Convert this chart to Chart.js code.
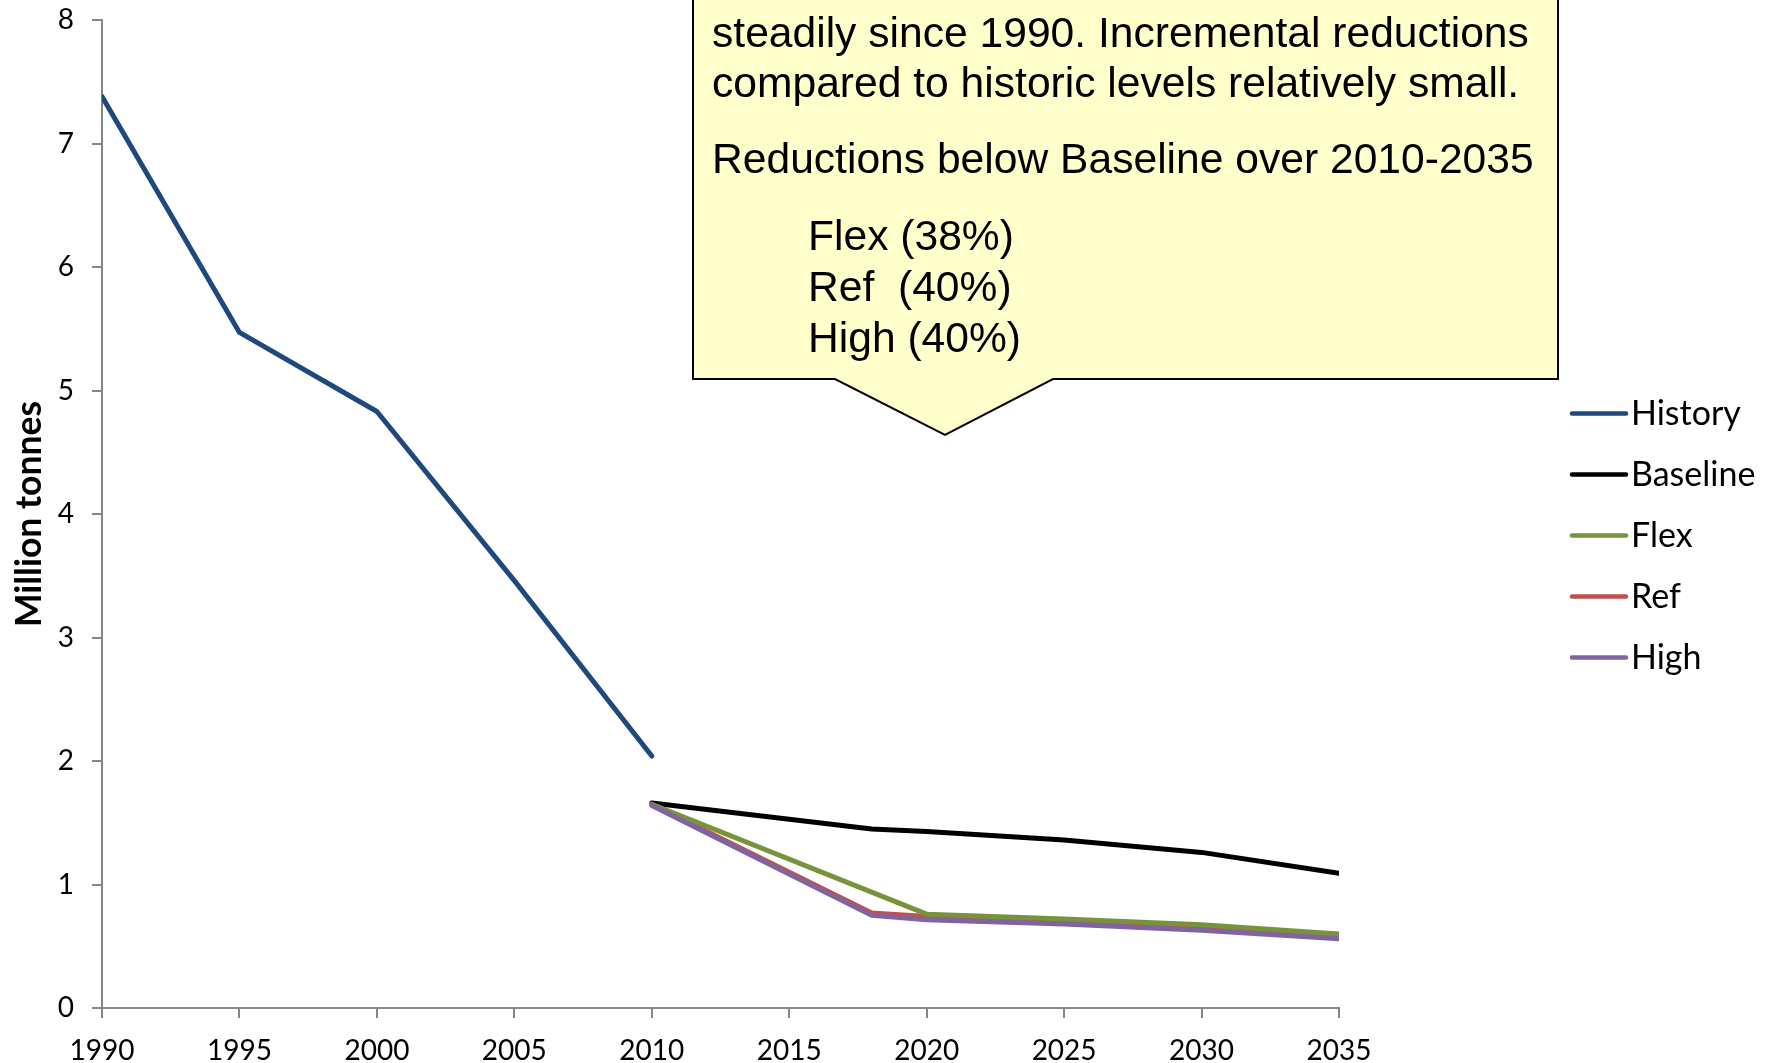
<!DOCTYPE html>
<html>
<head>
<meta charset="utf-8">
<script src="https://cdn.jsdelivr.net/npm/chart.js@4.4.1/dist/chart.umd.min.js"></script>
<style>
  html, body { margin: 0; padding: 0; background: #ffffff; }
  #wrap { width: 1775px; height: 1063px; position: relative; }
</style>
</head>
<body>
<div id="wrap"><canvas id="chart" width="1775" height="1063"></canvas></div>
<script>
// Emissions, million tonnes
const historyYears   = [1990, 1995, 2000, 2005, 2010];
const historyValues  = [7.38, 5.47, 4.83, 3.46, 2.04];

const scenarioYears  = [2010, 2018, 2020, 2025, 2030, 2035];
const baselineValues = [1.66, 1.45, 1.43, 1.36, 1.26, 1.09];
const refValues      = [1.65, 0.77, 0.74, 0.70, 0.65, 0.58];
const highValues     = [1.64, 0.75, 0.715, 0.68, 0.63, 0.56];

const flexYears      = [2010, 2020, 2025, 2030, 2035];
const flexValues     = [1.65, 0.76, 0.72, 0.675, 0.60];

const seriesLabels   = ['History', 'Baseline', 'Flex', 'Ref', 'High'];
const seriesColors   = ['#1F497D', '#000000', '#77933C', '#C0504D', '#8064A2'];

const xTickYears     = [1990, 1995, 2000, 2005, 2010, 2015, 2020, 2025, 2030, 2035];
const yTickValues    = [0, 1, 2, 3, 4, 5, 6, 7, 8];

const calloutLines = [
  { text: 'steadily since 1990. Incremental reductions', indent: false },
  { text: 'compared to historic levels relatively small.', indent: false },
  { text: 'Reductions below Baseline over 2010-2035', indent: false },
  { text: 'Flex (38%)', indent: true },
  { text: 'Ref  (40%)', indent: true },
  { text: 'High (40%)', indent: true }
];

const toPoints = (xs, ys) => xs.map((x, i) => ({ x: x, y: ys[i] }));

function lineSet(idx, points, order) {
  return {
    label: seriesLabels[idx],
    data: points,
    borderColor: seriesColors[idx],
    backgroundColor: seriesColors[idx],
    borderWidth: 5,
    pointRadius: 0,
    tension: 0,
    fill: false,
    borderCapStyle: 'round',
    borderJoinStyle: 'round',
    order: order
  };
}

// Legend drawn down the right-hand side, line sample followed by its label
const sideLegend = {
  id: 'sideLegend',
  afterDraw(chart, args, opts) {
    const ctx = chart.ctx;
    ctx.save();
    ctx.font = opts.font;
    ctx.textBaseline = 'middle';
    ctx.textAlign = 'left';
    chart.data.datasets.forEach((ds, i) => {
      const y = opts.top + i * opts.spacing;
      ctx.strokeStyle = ds.borderColor;
      ctx.lineWidth = opts.lineWidth;
      ctx.lineCap = 'round';
      ctx.beginPath();
      ctx.moveTo(opts.left, y);
      ctx.lineTo(opts.left + opts.lineLength, y);
      ctx.stroke();
      ctx.fillStyle = '#000000';
      ctx.fillText(ds.label, opts.left + opts.lineLength + opts.gap, y + 1);
    });
    ctx.restore();
  }
};

// Yellow speech-bubble note with its pointer
const calloutNote = {
  id: 'calloutNote',
  afterDraw(chart, args, o) {
    const ctx = chart.ctx;
    ctx.save();
    ctx.beginPath();
    ctx.moveTo(o.left, o.top);
    ctx.lineTo(o.right, o.top);
    ctx.lineTo(o.right, o.bottom);
    ctx.lineTo(o.tipBaseRight, o.bottom);
    ctx.lineTo(o.tipX, o.tipY);
    ctx.lineTo(o.tipBaseLeft, o.bottom);
    ctx.lineTo(o.left, o.bottom);
    ctx.closePath();
    ctx.fillStyle = '#FFFFCC';
    ctx.fill();
    ctx.lineWidth = 2;
    ctx.strokeStyle = '#000000';
    ctx.lineJoin = 'miter';
    ctx.stroke();

    ctx.fillStyle = '#000000';
    ctx.font = o.font;
    ctx.textBaseline = 'alphabetic';
    ctx.textAlign = 'left';
    calloutLines.forEach((line, i) => {
      ctx.fillText(line.text, line.indent ? o.indentX : o.textX, o.baselines[i]);
    });
    ctx.restore();
  }
};

const chart = new Chart(document.getElementById('chart'), {
  type: 'line',
  data: {
    datasets: [
      lineSet(0, toPoints(historyYears, historyValues), 0),
      lineSet(1, toPoints(scenarioYears, baselineValues), 4),
      lineSet(2, toPoints(flexYears, flexValues), 2),
      lineSet(3, toPoints(scenarioYears, refValues), 3),
      lineSet(4, toPoints(scenarioYears, highValues), 1)
    ]
  },
  options: {
    responsive: false,
    animation: false,
    devicePixelRatio: 1,
    layout: { padding: { left: 0, right: 436, top: 20, bottom: 0 } },
    plugins: {
      legend: { display: false },
      tooltip: { enabled: false },
      sideLegend: {
        left: 1572, top: 413.5, spacing: 61, lineLength: 54, gap: 5,
        lineWidth: 4.5, font: '34px Lato'
      },
      calloutNote: {
        left: 693, right: 1558, top: -20, bottom: 379,
        tipBaseLeft: 835, tipBaseRight: 1053, tipX: 945, tipY: 435,
        font: '42.6px "Liberation Sans"', textX: 712, indentX: 808,
        baselines: [47, 97, 173, 250, 301, 352]
      }
    },
    scales: {
      x: {
        type: 'linear',
        min: xTickYears[0],
        max: xTickYears[xTickYears.length - 1],
        afterBuildTicks: (scale) => { scale.ticks = xTickYears.map(v => ({ value: v })); },
        afterFit: (scale) => { scale.height = 55; scale.paddingLeft = 0; scale.paddingRight = 0; },
        ticks: {
          callback: (v) => String(v),
          color: '#000000',
          font: { family: 'Lato', size: 28 },
          padding: 16,
          maxRotation: 0,
          autoSkip: false
        },
        grid: { drawOnChartArea: false, drawTicks: true, tickLength: 10, color: '#868686', lineWidth: 2 },
        border: { color: '#868686', width: 2 }
      },
      y: {
        min: 0,
        max: 8,
        afterBuildTicks: (scale) => { scale.ticks = yTickValues.map(v => ({ value: v })); },
        afterFit: (scale) => { scale.width = 102; scale.paddingTop = 0; scale.paddingBottom = 0; },
        ticks: {
          color: '#000000',
          font: { family: 'Lato', size: 28 },
          padding: 18
        },
        grid: { drawOnChartArea: false, drawTicks: true, tickLength: 10, color: '#868686', lineWidth: 2 },
        border: { color: '#868686', width: 2 },
        title: {
          display: true,
          text: 'Million tonnes',
          color: '#000000',
          font: { family: 'Lato', size: 35.5, weight: 'bold' },
          padding: { top: 8, bottom: 0 }
        }
      }
    }
  },
  plugins: [sideLegend, calloutNote]
});
</script>
</body>
</html>
